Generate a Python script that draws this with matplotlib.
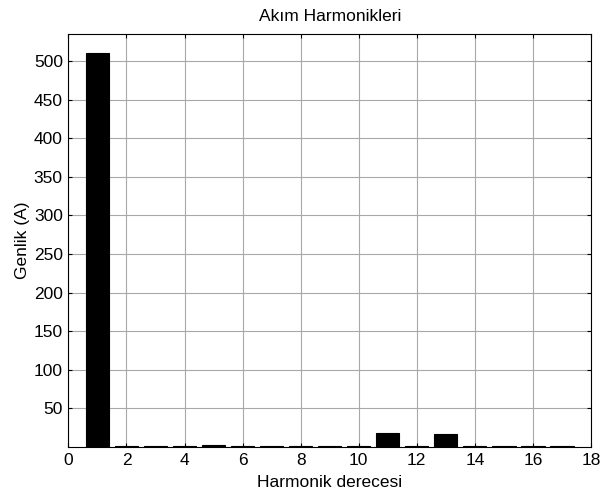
import matplotlib
matplotlib.use("Agg")
import matplotlib.pyplot as plt
import numpy as np

plt.rcParams['font.family'] = ['Liberation Sans', 'DejaVu Sans']

# harmonic order and current amplitude (A)
harmonics = np.arange(1, 18)
amplitudes = [510, 1.0, 1.0, 1.0, 2.5, 1.0, 0.9, 1.0, 0.9, 1.0,
              18.5, 1.0, 16.5, 1.0, 0.9, 0.9, 0.9]
xticks = list(range(0, 19, 2))
yticks = list(range(50, 501, 50))

fig = plt.figure(figsize=(6, 4.97), dpi=100)
ax = fig.add_axes([0.114, 0.1006, 0.871, 0.831])

ax.bar(harmonics, amplitudes, width=0.8, color='black',
       edgecolor='black', linewidth=0.8, zorder=3)

ax.set_xlim(0, 18)
ax.set_ylim(0, 535)
ax.set_xticks(xticks)
ax.set_yticks(yticks)
ax.grid(True, color='#a8a8a8', linewidth=0.8, zorder=0)
ax.tick_params(direction='in', length=3, labelsize=12.5, top=True, right=True, pad=4)
for s in ax.spines.values():
    s.set_linewidth(0.8)

ax.set_title('Akım Harmonikleri', fontsize=12.5, pad=9)
ax.set_xlabel('Harmonik derecesi', fontsize=12.5, labelpad=5)
ax.set_ylabel('Genlik (A)', fontsize=12.5, labelpad=3)

fig.savefig('out.png', dpi=100)
